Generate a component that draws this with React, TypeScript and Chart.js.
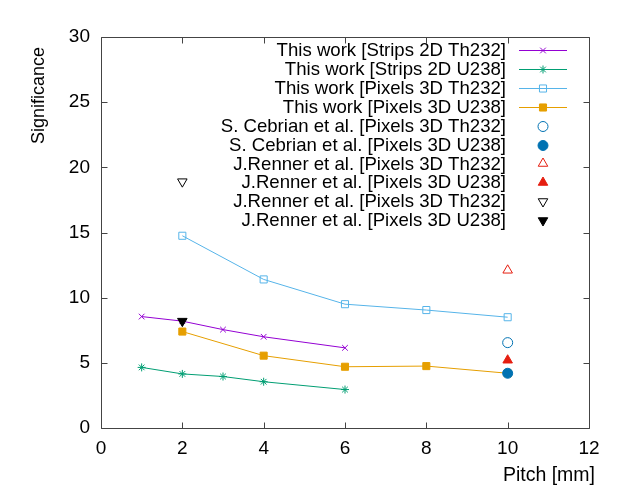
import React, { useEffect, useRef } from 'react';
import { Chart, registerables } from 'chart.js';
import { drawPoint } from 'chart.js/helpers';

Chart.register(...registerables);

const FONT = '"Liberation Sans", Arial, Helvetica, sans-serif';

// Data
const stripsX = [1, 2, 3, 4, 6];
const stripsTh232 = [8.55, 8.2, 7.55, 7.0, 6.15];
const stripsU238 = [4.65, 4.15, 3.95, 3.55, 2.95];
const pixelsX = [2, 4, 6, 8, 10];
const pixelsTh232 = [14.75, 11.4, 9.5, 9.05, 8.5];
const pixelsU238 = [7.4, 5.55, 4.7, 4.75, 4.2];
const cebrianX = [10];
const cebrianTh232 = [6.55];
const cebrianU238 = [4.2];
const rennerAX = [10];
const rennerATh232 = [12.1];
const rennerAU238 = [5.2];
const rennerBX = [2];
const rennerBTh232 = [18.9];
const rennerBU238 = [8.2];

const seriesLabels = [
  'This work [Strips 2D Th232]',
  'This work [Strips 2D U238]',
  'This work [Pixels 3D Th232]',
  'This work [Pixels 3D U238]',
  'S. Cebrian et al. [Pixels 3D Th232]',
  'S. Cebrian et al. [Pixels 3D U238]',
  'J.Renner et al. [Pixels 3D Th232]',
  'J.Renner et al. [Pixels 3D U238]',
  'J.Renner et al. [Pixels 3D Th232]',
  'J.Renner et al. [Pixels 3D U238]',
];
const xTicks = [0, 2, 4, 6, 8, 10, 12];
const yTicks = [0, 5, 10, 15, 20, 25, 30];
const xTitle = 'Pitch [mm]';
const yTitle = 'Significance';

const pts = (xs: number[], ys: number[]) => xs.map((x, i) => ({ x, y: ys[i] }));

type Style = { color: string; style: any; radius: number; filled: boolean; line: boolean; rotation?: number };
const styles: Style[] = [
  { color: '#9400d3', style: 'crossRot', radius: 4, filled: false, line: true },
  { color: '#009e73', style: 'star', radius: 4, filled: false, line: true },
  { color: '#56b4e9', style: 'rect', radius: 5, filled: false, line: true },
  { color: '#e69f00', style: 'rect', radius: 5, filled: true, line: true },
  { color: '#0072b2', style: 'circle', radius: 5, filled: false, line: false },
  { color: '#0072b2', style: 'circle', radius: 5, filled: true, line: false },
  { color: '#e51e10', style: 'triangle', radius: 5.5, filled: false, line: false },
  { color: '#e51e10', style: 'triangle', radius: 5.5, filled: true, line: false },
  { color: '#000000', style: 'triangle', radius: 5.5, filled: false, line: false, rotation: 180 },
  { color: '#000000', style: 'triangle', radius: 5.5, filled: true, line: false, rotation: 180 },
];
const seriesData = [
  pts(stripsX, stripsTh232),
  pts(stripsX, stripsU238),
  pts(pixelsX, pixelsTh232),
  pts(pixelsX, pixelsU238),
  pts(cebrianX, cebrianTh232),
  pts(cebrianX, cebrianU238),
  pts(rennerAX, rennerATh232),
  pts(rennerAX, rennerAU238),
  pts(rennerBX, rennerBTh232),
  pts(rennerBX, rennerBU238),
];

const framePlugin = {
  id: 'gnuFrame',
  afterDraw(chart: any) {
    const { ctx, chartArea: a, scales } = chart;
    const xs = scales.x;
    const ys = scales.y;
    ctx.save();
    ctx.strokeStyle = '#444';
    ctx.lineWidth = 1;
    const L = Math.round(a.left) + 0.5;
    const R = Math.round(a.right) + 0.5;
    const T = Math.round(a.top) + 0.5;
    const B = Math.round(a.bottom) + 0.5;
    ctx.beginPath();
    ctx.rect(L, T, R - L, B - T);
    const tl = 6;
    xTicks.forEach((v) => {
      const px = Math.round(xs.getPixelForValue(v)) + 0.5;
      ctx.moveTo(px, B); ctx.lineTo(px, B - tl);
      ctx.moveTo(px, T); ctx.lineTo(px, T + tl);
    });
    yTicks.forEach((v) => {
      const py = Math.round(ys.getPixelForValue(v)) + 0.5;
      ctx.moveTo(L, py); ctx.lineTo(L + tl, py);
      ctx.moveTo(R, py); ctx.lineTo(R - tl, py);
    });
    ctx.stroke();

    // axis titles
    ctx.fillStyle = '#000';
    ctx.font = `19.5px ${FONT}`;
    ctx.textAlign = 'right';
    ctx.textBaseline = 'middle';
    ctx.fillText(xTitle, 595, 476);
    ctx.save();
    ctx.translate(39, 95.5);
    ctx.rotate(-Math.PI / 2);
    ctx.textAlign = 'center';
    ctx.font = `18px ${FONT}`;
    ctx.fillText(yTitle, 0, 0);
    ctx.restore();

    // legend
    const textRight = 506;
    const lx0 = 519, lx1 = 567, lxm = 543;
    const y0 = 50, dy = 18.9;
    chart.data.datasets.forEach((ds: any, i: number) => {
      const y = y0 + i * dy;
      ctx.fillStyle = '#000';
      ctx.textAlign = 'right';
      ctx.textBaseline = 'middle';
      ctx.font = `18.6px ${FONT}`;
      ctx.fillText(ds.label, textRight, y + 1);
      const s = styles[i];
      if (s.line) {
        ctx.strokeStyle = s.color;
        ctx.lineWidth = 1;
        ctx.beginPath();
        ctx.moveTo(lx0, Math.round(y) + 0.5);
        ctx.lineTo(lx1, Math.round(y) + 0.5);
        ctx.stroke();
      }
      ctx.strokeStyle = s.color;
      ctx.fillStyle = s.filled ? s.color : 'rgba(0,0,0,0)';
      ctx.lineWidth = 1;
      drawPoint(ctx, { pointStyle: s.style, radius: s.radius, rotation: s.rotation || 0, borderWidth: 1 } as any, lxm, Math.round(y) + 0.5);
    });
    ctx.restore();
  },
};

export default function App() {
  const ref = useRef<HTMLCanvasElement>(null);
  useEffect(() => {
    if (!ref.current) return;
    Chart.defaults.font.family = FONT;
    const datasets = seriesData.map((data, i) => {
      const s = styles[i];
      return {
        label: seriesLabels[i],
        data,
        order: seriesData.length - i,
        showLine: s.line,
        borderColor: s.color,
        borderWidth: 1,
        backgroundColor: s.filled ? s.color : 'rgba(0,0,0,0)',
        pointStyle: s.style,
        pointRadius: s.radius,
        pointRotation: s.rotation || 0,
        pointBorderWidth: 1,
        pointBorderColor: s.color,
        pointBackgroundColor: s.filled ? s.color : 'rgba(0,0,0,0)',
        tension: 0,
      };
    });
    const chart = new Chart(ref.current, {
      type: 'scatter',
      data: { datasets },
      options: {
        animation: false,
        responsive: false,
        layout: { padding: { top: 37, right: 34, left: 0, bottom: 0 } },
        plugins: { legend: { display: false }, tooltip: { enabled: false } },
        scales: {
          x: {
            type: 'linear',
            min: 0,
            max: 12,
            afterBuildTicks: (scale: any) => { scale.ticks = xTicks.map((v) => ({ value: v })); },
            afterFit: (scale: any) => { scale.height = 57; },
            grid: { display: false, drawTicks: false },
            border: { display: false },
            ticks: { color: '#000', font: { size: 19, family: FONT }, padding: 9, maxRotation: 0 },
          },
          y: {
            type: 'linear',
            min: 0,
            max: 30,
            afterBuildTicks: (scale: any) => { scale.ticks = yTicks.map((v) => ({ value: v })); },
            afterFit: (scale: any) => { scale.width = 101; },
            grid: { display: false, drawTicks: false },
            border: { display: false },
            ticks: { color: '#000', font: { size: 19, family: FONT }, padding: 11 },
          },
        },
      },
      plugins: [framePlugin],
    });
    return () => chart.destroy();
  }, []);
  return (
    <div style={{ position: 'fixed', left: 0, top: 0, width: 623, height: 485, background: '#fff' }}>
      <canvas ref={ref} width={623} height={485} style={{ display: 'block', width: 623, height: 485 }} />
    </div>
  );
}
